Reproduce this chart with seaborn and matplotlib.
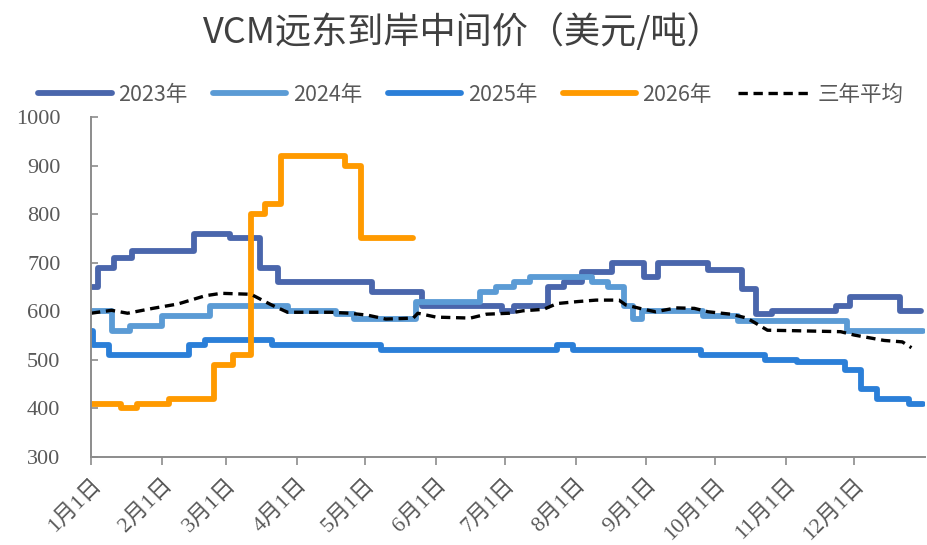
import numpy as np
import pandas as pd
import matplotlib
matplotlib.use("Agg")
import matplotlib.pyplot as plt
import seaborn as sns

# 数据：按年内天数(1月1日=0)记录价格变动点
d2023 = [0, 3, 10, 18, 45, 61, 74, 82, 123, 145, 180, 185, 200, 207, 215, 228, 242, 248, 270, 285, 291, 298, 326, 332, 354, 363]
v2023 = [650, 690, 710, 725, 760, 750, 690, 660, 640, 610, 600, 610, 650, 660, 680, 700, 670, 700, 685, 645, 595, 600, 610, 630, 600, 600]

d2024 = [0, 9, 17, 31, 52, 86, 107, 115, 142, 170, 177, 185, 192, 219, 226, 233, 237, 241, 268, 283, 331, 364]
v2024 = [600, 560, 570, 590, 610, 600, 595, 585, 620, 640, 650, 660, 670, 660, 650, 610, 585, 600, 590, 580, 560, 560]

d2025 = [0, 1, 8, 43, 50, 79, 127, 204, 211, 267, 295, 309, 330, 337, 344, 358, 364]
v2025 = [560, 530, 510, 530, 540, 530, 520, 530, 520, 510, 500, 495, 480, 440, 420, 410, 410]

d2026 = [0, 13, 20, 34, 54, 62, 70, 76, 83, 111, 118, 141]
v2026 = [410, 400, 410, 420, 490, 510, 800, 820, 920, 900, 750, 750]

d_avg = [0, 9, 16, 27, 38, 50, 57, 70, 79, 86, 105, 113, 121, 129, 141, 143, 151, 166, 173, 183, 189,
         198, 204, 213, 221, 231, 234, 241, 247, 256, 264, 270, 280, 287, 291, 296, 308, 328, 334, 347, 355, 359]
v_avg = [596, 602, 596, 606, 615, 632, 637, 635, 613, 598, 598, 596, 592, 584, 586, 596, 588, 586, 594, 596, 601,
         604, 616, 620, 623, 623, 613, 605, 599, 607, 606, 599, 594, 586, 575, 561, 560, 558, 551, 540, 537, 525]

month_days = [0, 31, 59, 90, 120, 151, 181, 212, 243, 273, 304, 334]
month_labels = [f"{m}月1日" for m in range(1, 13)]
years = ["2023年", "2024年", "2025年", "2026年"]
colors = ["#4A66AC", "#5B9BD5", "#2B7FD8", "#FF9A00"]

frames = []
for name, d, v in zip(years, [d2023, d2024, d2025, d2026], [v2023, v2024, v2025, v2026]):
    frames.append(pd.DataFrame({"day": d, "price": v, "year": name}))
df = pd.concat(frames, ignore_index=True)
avg = pd.DataFrame({"day": d_avg, "price": v_avg})

sns.set_style("white")
plt.rcParams['font.family'] = ['Noto Sans CJK SC', 'DejaVu Sans']

fig = plt.figure(figsize=(9.27, 5.45), dpi=100)
ax = fig.add_axes([91 / 927, 1 - 457 / 545, (924.5 - 91) / 927, (457 - 117) / 545])

for name, c in zip(years, colors):
    sub = df[df["year"] == name]
    sns.lineplot(x="day", y="price", data=sub, ax=ax, color=c, linewidth=4.2,
                 drawstyle="steps-post", estimator=None, sort=False, label=name,
                 legend=False, solid_capstyle="round", solid_joinstyle="round")
sns.lineplot(x="day", y="price", data=avg, ax=ax, color="black", linewidth=2.4,
             linestyle=(0, (2.8, 1.7)), estimator=None, sort=False, label="三年平均", legend=False)

ax.set_xlim(0, 364.7)
ax.set_ylim(300, 1000)
ax.set_yticks(range(300, 1001, 100))
ax.set_xticks(month_days)
ax.set_xticklabels(month_labels, rotation=45, ha="right", rotation_mode="anchor",
                   family=['Liberation Serif', 'Noto Sans CJK SC'], fontsize=16, color="#595959")
ax.set_yticklabels([str(t) for t in range(300, 1001, 100)],
                   family=['Liberation Serif'], fontsize=16, color="#595959")
ax.set_xlabel("")
ax.set_ylabel("")

for s in ["top", "right"]:
    ax.spines[s].set_visible(False)
for s in ["left", "bottom"]:
    ax.spines[s].set_color("#8C8C8C")
    ax.spines[s].set_linewidth(1.4)
ax.tick_params(axis="y", direction="in", length=5, width=1.2, color="#8C8C8C", pad=22, left=True)
ax.tick_params(axis="x", direction="out", length=6, width=1.2, color="#8C8C8C", pad=7, bottom=True)

handles = ax.get_lines()
fig.legend(handles=handles, labels=years + ["三年平均"], loc="center", ncol=5,
           bbox_to_anchor=(0.508, 1 - 95 / 545), frameon=False, fontsize=15.5,
           handlelength=3.4, columnspacing=1.2, handletextpad=0.3, labelcolor="#595959")

fig.suptitle("VCM远东到岸中间价（美元/吨）", y=1 - 32 / 545, va="center",
             fontsize=26, color="#404040")

fig.savefig("out.png", dpi=100)
